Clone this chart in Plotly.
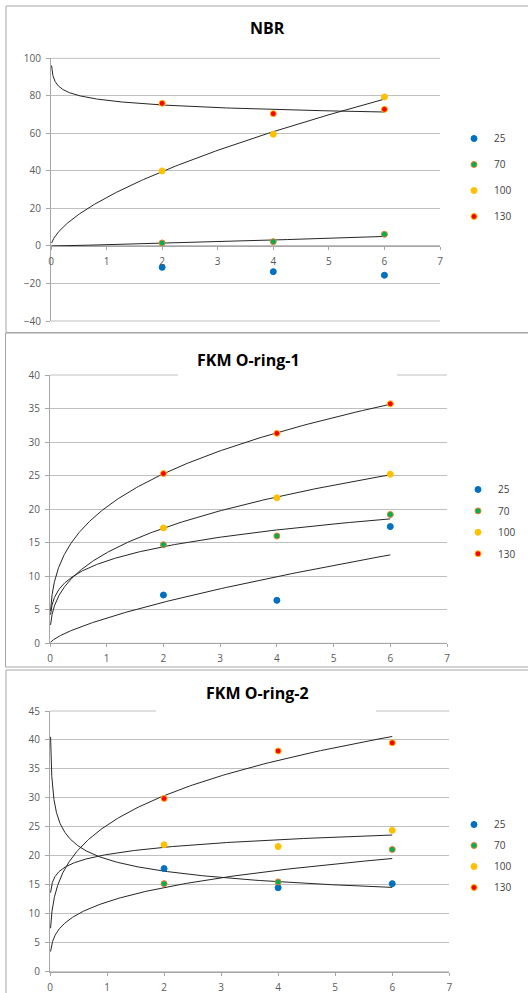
import numpy as np
import plotly.graph_objects as go

# ---------------- data ----------------
days = [2, 4, 6]
temps = ["25", "70", "100", "130"]

nbr_25 = [-11.4, -13.7, -15.6]
nbr_70 = [1.6, 2.3, 6.2]
nbr_100 = [40.0, 59.5, 79.4]
nbr_130 = [76.0, 70.5, 72.8]

fkm1_25 = [7.2, 6.4, 17.4]
fkm1_70 = [14.7, 16.0, 19.2]
fkm1_100 = [17.2, 21.7, 25.2]
fkm1_130 = [25.3, 31.3, 35.7]

fkm2_25 = [17.8, 14.5, 15.2]
fkm2_70 = [15.2, 15.5, 21.1]
fkm2_100 = [21.9, 21.6, 24.4]
fkm2_130 = [29.9, 38.1, 39.5]

titles = ["NBR", "FKM O-ring-1", "FKM O-ring-2"]
x_ticks = [0, 1, 2, 3, 4, 5, 6, 7]

# ---------------- style / layout ----------------
W, H = 528, 993
colors = ["#0070C0", "#00B050", "#FFC000", "#FF0000"]
edge_colors = ["#0070C0", "#ED7D31", "#FFC000", "#FFC000"]
grid_c = "#BFBFBF"
axis_c = "#A6A6A6"
tick_font = dict(family="Open Sans", size=10, color="#595959")

def px_x(p):
    return p / W

def px_y(p):
    return 1 - p / H

panels = [
    dict(series=[nbr_25, nbr_70, nbr_100, nbr_130], yr=[-40, 100], dt=20,
         xd=(51, 440), yd=(58.3, 321), title_at=(267, 28),
         leg_at=(454, 124), leg_gap=7, gap_box=None, border=(6, 6, 332.5)),
    dict(series=[fkm1_25, fkm1_70, fkm1_100, fkm1_130], yr=[0, 40], dt=5,
         xd=(50, 447), yd=(375, 643.3), title_at=(248.5, 360),
         leg_at=(458, 475), leg_gap=2.4, gap_box=(178, 397, 375), border=(5.5, 333, 667)),
    dict(series=[fkm2_25, fkm2_70, fkm2_100, fkm2_130], yr=[0, 45], dt=5,
         xd=(50, 449.3), yd=(711, 971.7), title_at=(257.5, 693),
         leg_at=(454, 810), leg_gap=2, gap_box=(156, 376, 711), border=(6, 670, 1000)),
]

fig = go.Figure()
layout = dict(width=W, height=H, margin=dict(l=0, r=0, t=0, b=0, pad=0), autosize=False,
              paper_bgcolor="white", plot_bgcolor="white", shapes=[], annotations=[])

trend_x = np.geomspace(0.01, 6, 300)

for i, p in enumerate(panels):
    k = "" if i == 0 else str(i + 1)
    xa, ya = "x" + k, "y" + k
    leg = "legend" + k
    # power trendlines (Excel style, fitted in log-log space)
    for j, (vals, name) in enumerate(zip(p["series"], temps)):
        v = np.array(vals, dtype=float)
        if np.all(v > 0):
            b, lna = np.polyfit(np.log(days), np.log(v), 1)
            fig.add_trace(go.Scatter(x=trend_x, y=np.exp(lna) * trend_x ** b, mode="lines",
                                     line=dict(color="#262626", width=1), hoverinfo="skip",
                                     showlegend=False, xaxis=xa, yaxis=ya))
    for j, (vals, name) in enumerate(zip(p["series"], temps)):
        fig.add_trace(go.Scatter(x=days, y=vals, mode="markers", name=name,
                                 marker=dict(color=colors[j], size=6,
                                             line=dict(color=edge_colors[j], width=1)),
                                 xaxis=xa, yaxis=ya, legend=leg,
                                 legendgroup=f"p{i}_{name}"))
    y0, y1 = p["yr"]
    ydom = [px_y(p["yd"][1]), px_y(p["yd"][0])]
    xdom = [px_x(p["xd"][0]), px_x(p["xd"][1])]
    xaxis = dict(domain=xdom, range=[0, 7], tickvals=x_ticks, showgrid=False,
                 zeroline=False, showline=True, linecolor=axis_c, linewidth=1,
                 ticks="outside", ticklen=3, tickcolor=axis_c, tickfont=tick_font,
                 ticklabelstandoff=3, fixedrange=True, automargin=False)
    if y0 < 0:
        xaxis.update(anchor="free",
                     position=ydom[0] + (0 - y0) / (y1 - y0) * (ydom[1] - ydom[0]))
    else:
        xaxis.update(anchor=ya)
    yaxis = dict(domain=ydom, range=[y0, y1], dtick=p["dt"], tick0=0,
                 showgrid=True, gridcolor=grid_c, gridwidth=1, zeroline=False,
                 showline=True, linecolor=axis_c, linewidth=1, ticks="outside",
                 ticklen=4, tickcolor=axis_c, tickfont=tick_font, anchor=xa,
                 ticklabelstandoff=3, fixedrange=True, automargin=False)
    layout["xaxis" + k] = xaxis
    layout["yaxis" + k] = yaxis
    layout[leg] = dict(x=px_x(p["leg_at"][0]), y=px_y(p["leg_at"][1]),
                       xanchor="left", yanchor="top", bgcolor="rgba(0,0,0,0)",
                       font=dict(family="Open Sans", size=10, color="#404040"),
                       traceorder="grouped", tracegroupgap=p["leg_gap"], itemwidth=30)
    # gridlines at both ends of the value range
    for edge in (0, 1):
        layout["shapes"].append(dict(type="line", xref=xa + " domain", yref=ya + " domain",
                                     x0=0, x1=1, y0=edge, y1=edge,
                                     line=dict(color=grid_c, width=1), layer="below"))
    bx, by0, by1 = p["border"]
    layout["shapes"].append(dict(type="rect", xref="paper", yref="paper",
                                 x0=px_x(bx), x1=1.05, y0=px_y(by1), y1=px_y(by0),
                                 line=dict(color="#A6A6A6", width=1), layer="below"))
    if p["gap_box"]:
        gx0, gx1, gy = p["gap_box"]
        layout["shapes"].append(dict(type="rect", xref="paper", yref="paper",
                                     x0=px_x(gx0), x1=px_x(gx1), y0=px_y(gy + 4), y1=px_y(gy - 4),
                                     fillcolor="white", line=dict(width=0), layer="above"))
    tx, ty = p["title_at"]
    layout["annotations"].append(dict(text="<b>" + titles[i] + "</b>", xref="paper", yref="paper",
                                      x=px_x(tx), y=px_y(ty), xanchor="center", yanchor="middle",
                                      showarrow=False,
                                      font=dict(family="Open Sans", size=16, color="#000000")))

fig.update_layout(**layout)
fig.write_html("out.html",
               config={"displayModeBar": False},
               post_script="document.body.style.margin='0px';document.body.style.overflow='hidden';")
